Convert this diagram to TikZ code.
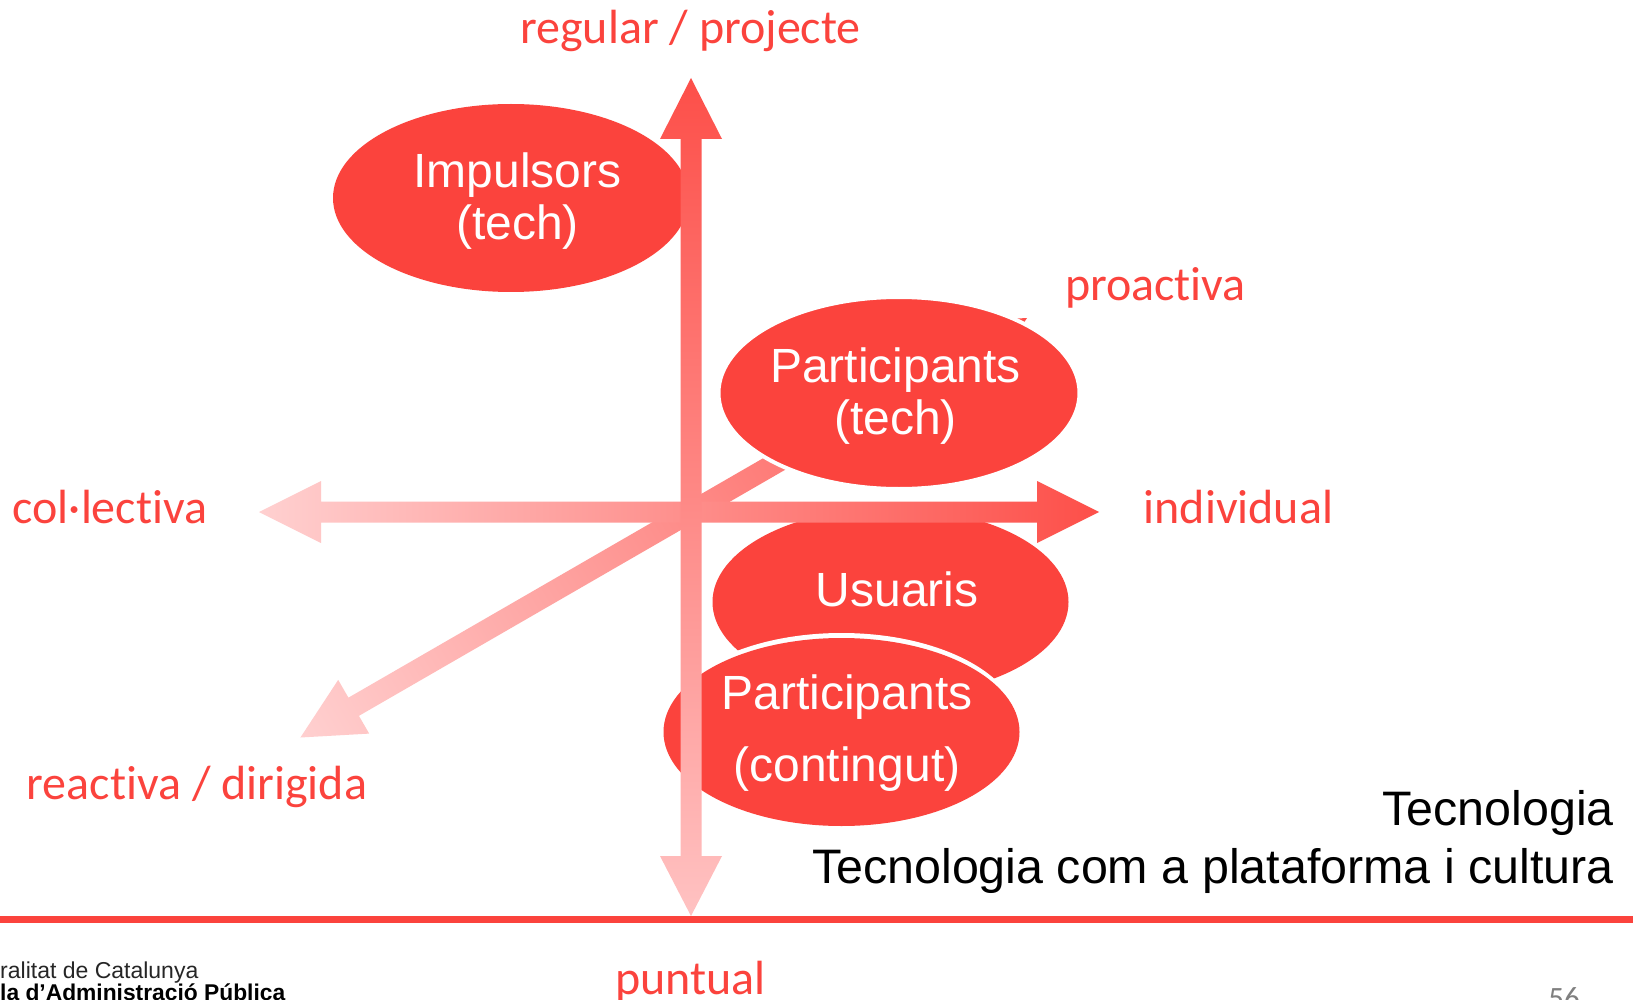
\documentclass[tikz,border=0pt]{standalone}
\usepackage{fontspec}
\setmainfont{Liberation Sans}
\newfontfamily\calibrilike[Ligatures=NoCommon]{Carlito}
\usetikzlibrary{calc,shapes.geometric}
\definecolor{mainred}{HTML}{FB433D}
\definecolor{paleend}{HTML}{FFD0D0}
\definecolor{palevert}{HTML}{FFC2C2}
\definecolor{strongend}{HTML}{FD4F49}
\tikzset{
  x=1pt,y=-1pt,
  blob/.style={ellipse,fill=mainred,draw=none,minimum width=356pt,minimum height=188pt,inner sep=0pt},
  blobhalo/.style={ellipse,fill=mainred,draw=white,line width=4pt,minimum width=361pt,minimum height=192pt,inner sep=0pt},
  haloback/.style={ellipse,fill=white,draw=none,minimum width=356pt,minimum height=188pt,inner sep=0pt},
  blobtext/.style={text=white,anchor=base,inner sep=0pt,font=\fontsize{48}{50}\selectfont},
  axislabel/.style={text=mainred,anchor=base,inner sep=0pt,font=\calibrilike\fontsize{48}{50}\selectfont},
  titletext/.style={text=black,anchor=base east,inner sep=0pt,font=\fontsize{48.4}{50}\selectfont},
}
\begin{document}
\begin{tikzpicture}
\useasboundingbox (0,0) rectangle (1633,1000);
\fill[white] (0,0) rectangle (1633,1000);
\coordinate (redL) at (0,919.5);
\coordinate (redR) at (1633,919.5);
\draw[mainred,line width=7pt] (redL) -- (redR);
\coordinate (hub) at (691,512);
% ellipses behind the axes
\node[blob] (impulsors) at (511,198) {};
\node[blob] (usuaris) at (890.5,602) {};
% diagonal axis
\begin{scope}[transform canvas={rotate around={30:(hub)}}]
\shade[left color=paleend,right color=strongend]
  (240,512) -- (301.5,481) -- (301.5,501.5) -- (1018,501.5) -- (1018,481) -- (1079,512) -- (1018,543) -- (1018,522.5) -- (301.5,522.5) -- (301.5,543) -- cycle;
\end{scope}
\node[blobhalo] (partTech) at (899,393) {};
\node[haloback] (partContBack) at (841.5,727) {};
\node[blob] (partCont) at (841.5,732) {};
% horizontal axis
\shade[left color=paleend,right color=strongend]
  (259,512) -- (321,481) -- (321,501.5) -- (1037,501.5) -- (1037,481) -- (1099,512) -- (1037,543) -- (1037,522.5) -- (321,522.5) -- (321,543) -- cycle;
% vertical axis
\shade[top color=strongend,bottom color=palevert]
  (691,78) -- (722,139) -- (701.5,139) -- (701.5,856) -- (722,856) -- (691,916) -- (660,856) -- (680.5,856) -- (680.5,139) -- (660,139) -- cycle;
% ellipse texts
\node[blobtext] (impA) at (517.5,187.5) {Impulsors};
\node[blobtext] (impB) at (517.5,239.5) {(tech)};
\node[blobtext] (ptA) at (895.5,382) {Participants};
\node[blobtext] (ptB) at (895.5,434) {(tech)};
\node[blobtext] (usA) at (897,606) {Usuaris};
\node[blobtext] (pcA) at (847,709) {Participants};
\node[blobtext] (pcB) at (847,781) {(contingut)};
% axis labels
\node[axislabel] (lblTop) at (690.5,43.5) {regular / projecte};
\node[axislabel] (lblPro) at (1155.5,300.5) {proactiva};
\node[axislabel] (lblInd) at (1238.5,523.5) {individual};
\node[axislabel] (lblCol) at (110,523.5) {col·lectiva};
\node[axislabel] (lblRea) at (197,799.5) {reactiva / dirigida};
\node[axislabel] (lblPun) at (690.5,994.5) {puntual};
% title
\node[titletext] (titleA) at (1614,825) {Tecnologia};
\node[titletext] (titleB) at (1614,883) {Tecnologia com a plataforma i cultura};
% footer
\node[anchor=base west,inner sep=0pt,text=black!85,font=\fontsize{23}{25}\selectfont] (footA) at (0,978) {ralitat de Catalunya};
\node[anchor=base west,inner sep=0pt,text=black,font=\bfseries\fontsize{22.8}{25}\selectfont] (footB) at (0,1000) {la d’Administració Pública};
\node[anchor=base,inner sep=0pt,text=black!50,font=\calibrilike\fontsize{31}{33}\selectfont] (pageNo) at (1564,1008) {56};
\end{tikzpicture}
\end{document}
